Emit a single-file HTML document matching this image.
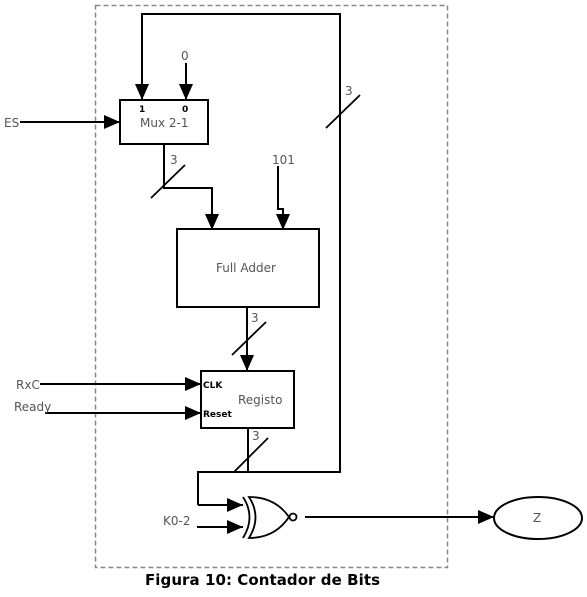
<!DOCTYPE html>
<html><head><meta charset="utf-8"><style>
html,body{margin:0;padding:0;background:#fff;width:587px;height:597px;overflow:hidden}
svg{display:block}
text{font-family:"DejaVu Sans","Liberation Sans",sans-serif}
</style></head><body>
<svg width="587" height="597" viewBox="0 0 587 597" xmlns="http://www.w3.org/2000/svg">
<defs>
<marker id="b" markerWidth="16" markerHeight="14" refX="16" refY="7" orient="auto" markerUnits="userSpaceOnUse"><path d="M0,0 L16,7 L0,14 z" fill="#000"/></marker>
</defs>
<rect x="95.5" y="5.5" width="352" height="562" fill="none" stroke="#888" stroke-width="1.5" stroke-dasharray="5,3"/>
<g stroke="#000" stroke-width="2" fill="none">
<polyline points="198,505 198,472 340,472 340,14 142,14 142,100" marker-end="url(#b)"/>
<line x1="186" y1="63" x2="186" y2="100" marker-end="url(#b)"/>
<line x1="20" y1="122" x2="120" y2="122" marker-end="url(#b)"/>
<polyline points="164,144 164,188 212,188 212,230" marker-end="url(#b)"/>
<polyline points="278,166 278,209 283,209 283,230" marker-end="url(#b)"/>
<line x1="247" y1="307" x2="247" y2="371" marker-end="url(#b)"/>
<line x1="40" y1="384" x2="201" y2="384" marker-end="url(#b)"/>
<line x1="45" y1="413" x2="201" y2="413" marker-end="url(#b)"/>
<line x1="248" y1="428" x2="248" y2="472"/>
<line x1="198" y1="505" x2="243" y2="505" marker-end="url(#b)"/>
<line x1="197" y1="527" x2="243" y2="527" marker-end="url(#b)"/>
<line x1="305" y1="517" x2="494" y2="517" marker-end="url(#b)"/>
</g>
<g stroke="#000" stroke-width="2" fill="#fff">
<rect x="120" y="100" width="88" height="44"/>
<rect x="177" y="229" width="142" height="78"/>
<rect x="201" y="371" width="93" height="57"/>
<ellipse cx="538" cy="518" rx="44" ry="21"/>
</g>
<g stroke="#000" stroke-width="1.8" fill="none">
<line x1="151" y1="198" x2="185" y2="165"/>
<line x1="326" y1="128" x2="360" y2="95"/>
<line x1="232" y1="355" x2="266" y2="322"/>
<line x1="234" y1="472" x2="268" y2="438"/>
<path d="M243,497 Q256,517 243,538"/>
<path d="M249,497 Q262,517 249,538 Q275,538 289,517 Q275,497 249,497 z" fill="#fff"/>
<circle cx="293" cy="517" r="3.5" fill="#fff"/>
</g>
<g font-size="12" fill="#555">
<text x="181" y="60">0</text>
<text x="140" y="127">Mux 2-1</text>
<text x="4" y="127">ES</text>
<text x="170" y="164">3</text>
<text x="272" y="164">101</text>
<text x="345" y="95">3</text>
<text x="216" y="272">Full Adder</text>
<text x="251" y="322">3</text>
<text x="238" y="404">Registo</text>
<text x="16" y="389">RxC</text>
<text x="14" y="411">Ready</text>
<text x="252" y="440">3</text>
<text x="163" y="525">K0-2</text>
<text x="533" y="522">Z</text>
</g>
<g font-size="9" font-weight="bold" fill="#000">
<text x="139" y="112">1</text>
<text x="182" y="112">0</text>
<text x="203" y="388">CLK</text>
<text x="203" y="417">Reset</text>
</g>
<text x="145" y="585" font-size="15" font-weight="bold" fill="#000" textLength="235">Figura 10: Contador de Bits</text>
</svg>
</body></html>
